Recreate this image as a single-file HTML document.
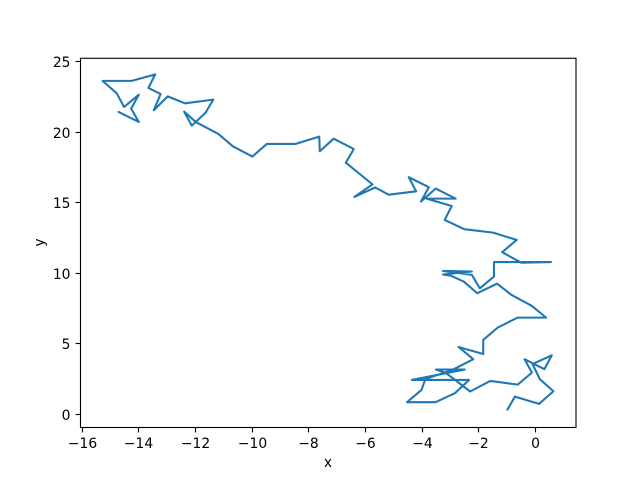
<!DOCTYPE html>
<html>
<head>
<meta charset="utf-8">
<title>Random walk line chart</title>
<style>
  html, body { margin: 0; padding: 0; background: #fff; }
  svg { display: block; }
  text { font-family: "DejaVu Sans", sans-serif; font-size: 13.89px; fill: #000; }
</style>
</head>
<body>
<svg id="chart" width="640" height="480" viewBox="0 0 640 480" xmlns="http://www.w3.org/2000/svg">
  <rect x="0" y="0" width="640" height="480" fill="#ffffff"></rect>
  <g id="ticks"></g>
  <polyline id="series" fill="none" stroke="#1f77b4" stroke-width="2.08" stroke-linejoin="round" stroke-linecap="butt"></polyline>
  <rect x="80.5" y="58.3" width="495.5" height="369.2" fill="none" stroke="#000" stroke-width="1.11"></rect>
  <text x="328" y="467" text-anchor="middle">x</text>
  <text x="0" y="0" text-anchor="middle" transform="translate(44 242.5) rotate(-90)">y</text>
</svg>
<script>
const xTickValues = [-16, -14, -12, -10, -8, -6, -4, -2, 0];
const yTickValues = [0, 5, 10, 15, 20, 25];
const xValues = [-1.00,-0.72,0.13,0.64,0.16,-0.10,0.58,0.32,-0.38,-0.12,-0.62,-1.59,-2.30,-3.16,-3.51,-2.49,-4.36,-2.34,-2.84,-3.52,-4.53,-4.02,-3.88,-2.93,-2.19,-2.71,-1.84,-1.84,-1.33,-0.63,0.38,-0.12,-0.84,-1.35,-2.05,-2.52,-2.96,-3.26,-2.24,-3.26,-2.24,-1.96,-1.46,-1.46,0.55,-0.49,-1.17,-0.66,-1.49,-2.51,-3.20,-2.95,-3.84,-2.81,-3.52,-4.04,-3.76,-4.47,-4.21,-5.18,-5.65,-6.39,-5.75,-6.69,-6.41,-7.12,-7.61,-7.63,-8.46,-9.48,-9.99,-10.68,-11.19,-11.98,-12.40,-12.13,-11.64,-11.37,-12.37,-12.98,-13.47,-13.23,-13.66,-13.42,-14.25,-15.28,-14.78,-14.52,-14.00,-14.27,-14.00,-14.74];
const yValues = [0.28,1.26,0.74,1.64,2.49,3.57,4.19,3.20,3.91,2.96,2.11,2.37,1.62,2.94,3.18,3.18,2.44,2.44,1.50,0.86,0.86,1.73,2.51,3.15,3.91,4.78,4.28,5.28,6.15,6.86,6.86,7.69,8.47,9.27,8.59,9.41,9.82,9.92,10.13,10.17,9.89,8.94,9.77,10.80,10.80,10.75,11.50,12.37,12.89,13.13,13.79,14.78,15.30,15.30,16.01,15.09,16.11,16.82,15.82,15.58,16.09,15.42,16.31,17.85,18.82,19.55,18.66,19.70,19.18,19.18,18.28,19.01,19.89,20.72,21.47,20.48,21.40,22.32,22.06,22.55,21.57,22.72,23.15,24.11,23.65,23.65,22.77,21.80,22.67,21.68,20.74,21.47];

const plotLeft = 80, plotRight = 576, plotTop = 57.6, plotBottom = 427.2;
const marginFraction = 0.05;
const xMin = Math.min(...xValues), xMax = Math.max(...xValues);
const yMin = Math.min(...yValues), yMax = Math.max(...yValues);
const xPad = (xMax - xMin) * marginFraction, yPad = (yMax - yMin) * marginFraction;
function xScale(v) {
  return plotLeft + (v - (xMin - xPad)) / ((xMax + xPad) - (xMin - xPad)) * (plotRight - plotLeft);
}
function yScale(v) {
  return plotBottom - (v - (yMin - yPad)) / ((yMax + yPad) - (yMin - yPad)) * (plotBottom - plotTop);
}
function snap(p) { return Math.floor(p) + 0.5; }

const NS = 'http://www.w3.org/2000/svg';
const tickGroup = document.getElementById('ticks');

xTickValues.forEach(function (v) {
  const px = snap(xScale(v));
  const mark = document.createElementNS(NS, 'line');
  
  
  mark.setAttribute('x1', px);
  mark.setAttribute('x2', px);
  mark.setAttribute('y1', 427.5);
  mark.setAttribute('y2', 432.4);
  mark.setAttribute('stroke', '#000');
  mark.setAttribute('stroke-width', 1.11);
  tickGroup.appendChild(mark);
  const label = document.createElementNS(NS, 'text');
  
  
  label.setAttribute('x', px);
  label.setAttribute('y', 448);
  label.setAttribute('text-anchor', 'middle');
  label.textContent = String(v).replace('-', '\u2212');
  tickGroup.appendChild(label);
});

yTickValues.forEach(function (v) {
  const py = snap(yScale(v));
  const mark = document.createElementNS(NS, 'line');
  
  
  mark.setAttribute('x1', 80.5);
  mark.setAttribute('x2', 75.6);
  mark.setAttribute('y1', py);
  mark.setAttribute('y2', py);
  mark.setAttribute('stroke', '#000');
  mark.setAttribute('stroke-width', 1.11);
  tickGroup.appendChild(mark);
  const label = document.createElementNS(NS, 'text');
  
  
  label.setAttribute('x', 70.5);
  label.setAttribute('y', py + 5.5);
  label.setAttribute('text-anchor', 'end');
  label.textContent = String(v);
  tickGroup.appendChild(label);
});

document.getElementById('series').setAttribute('points', xValues.map(function (x, i) {
  return xScale(x).toFixed(2) + ',' + yScale(yValues[i]).toFixed(2);
}).join(' '));
</script>
</body>
</html>
